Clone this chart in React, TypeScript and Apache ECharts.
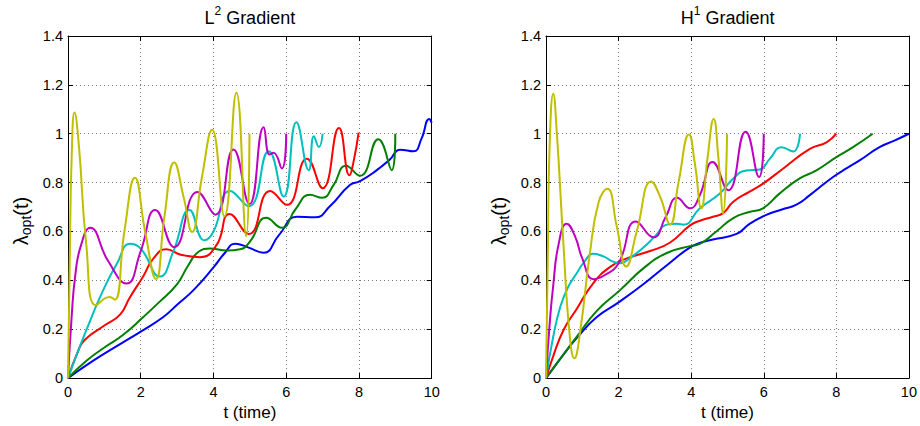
import React, { useEffect, useRef } from "react";
import * as echarts from "echarts";

// ---------- data (t, lambda_opt) ----------
const xTicks = [0, 2, 4, 6, 8, 10];
const yTicks = [0, 0.2, 0.4, 0.6, 0.8, 1, 1.2, 1.4];

const l2Blue = [[0,0],[0.5,0.052],[1,0.1],[1.5,0.145],[2,0.19],[2.62,0.25],[3.0,0.3],[3.45,0.36],[4.0,0.453],[4.3,0.51],[4.6,0.55],[4.95,0.535],[5.38,0.513],[5.8,0.585],[6.29,0.66],[6.8,0.658],[7.2,0.703],[7.75,0.79],[8.03,0.806],[8.49,0.851],[8.85,0.895],[9.13,0.935],[9.5,0.928],[9.72,0.98],[9.93,1.06],[10,1.045]];
const l2Green = [[0,0],[0.5,0.07],[1,0.125],[1.5,0.175],[2.07,0.25],[2.5,0.31],[3.0,0.385],[3.3,0.46],[3.6,0.518],[3.9,0.53],[4.37,0.522],[4.73,0.527],[5.01,0.56],[5.45,0.656],[5.88,0.615],[6.25,0.69],[6.65,0.75],[6.99,0.738],[7.3,0.79],[7.64,0.869],[8.03,0.828],[8.53,0.977],[8.9,0.851],[9,1.0]];
const l2Red = [[0,0],[0.25,0.1],[0.45,0.155],[1.0,0.215],[1.43,0.26],[1.7,0.33],[2.07,0.417],[2.35,0.49],[2.7,0.527],[3.1,0.505],[3.63,0.495],[4.09,0.546],[4.44,0.672],[4.97,0.59],[5.56,0.766],[6.02,0.709],[6.57,0.898],[7.0,0.777],[7.45,1.023],[7.74,0.83],[7.85,0.885],[7.99,1.005]];
const l2Cyan = [[0,0],[0.3,0.12],[0.65,0.25],[1.0,0.37],[1.34,0.467],[1.71,0.55],[2.0,0.53],[2.53,0.416],[2.9,0.52],[3.34,0.688],[3.75,0.564],[4.0,0.6],[4.46,0.766],[4.97,0.703],[5.52,0.928],[5.93,0.743],[6.28,1.047],[6.62,0.851],[6.76,0.99],[6.9,0.946],[7.0,1.0]];
const l2Magenta = [[0,0],[0.1,0.25],[0.2,0.42],[0.35,0.54],[0.61,0.615],[1.1,0.48],[1.61,0.387],[2.0,0.52],[2.4,0.688],[2.92,0.536],[3.56,0.762],[4.05,0.669],[4.55,0.936],[4.99,0.712],[5.38,1.027],[5.54,0.915],[5.65,0.922],[5.88,0.858],[6.0,1.0]];
const l2Yellow = [[0,0],[0.05,0.5],[0.1,0.9],[0.18,1.087],[0.3,0.95],[0.5,0.55],[0.77,0.298],[1.14,0.332],[1.29,0.321],[1.55,0.6],[1.84,0.82],[2.12,0.6],[2.42,0.406],[2.65,0.66],[2.92,0.882],[3.18,0.74],[3.41,0.598],[3.68,0.82],[3.96,1.016],[4.3,0.662],[4.63,1.168],[4.9,0.581],[4.99,1.0]];

const h1Blue = [[0,0],[0.5,0.1],[0.85,0.165],[1.4,0.25],[2.0,0.31],[2.69,0.385],[3.33,0.462],[3.97,0.535],[4.3,0.556],[4.6,0.567],[5.25,0.59],[5.6,0.63],[6.07,0.668],[6.5,0.69],[6.9,0.71],[7.27,0.749],[7.91,0.823],[8.3,0.86],[8.64,0.891],[9.19,0.945],[9.6,0.972],[10,1.0]];
const h1Green = [[0,0],[0.5,0.1],[0.85,0.17],[1.4,0.275],[2.04,0.36],[2.69,0.45],[3.33,0.512],[3.97,0.54],[4.24,0.549],[4.7,0.601],[5.16,0.655],[5.6,0.68],[5.98,0.695],[6.44,0.756],[6.99,0.817],[7.45,0.85],[8.0,0.904],[8.46,0.945],[9.0,1.0]];
const h1Red = [[0,0],[0.2,0.09],[0.48,0.196],[0.85,0.284],[1.31,0.39],[1.77,0.455],[2.23,0.49],[2.87,0.52],[3.42,0.555],[3.97,0.625],[4.24,0.644],[4.6,0.66],[4.88,0.675],[5.16,0.722],[5.61,0.763],[5.98,0.796],[6.53,0.857],[7.27,0.938],[7.73,0.965],[8.0,1.0]];
const h1Cyan = [[0,0],[0.2,0.17],[0.39,0.29],[0.6,0.37],[0.85,0.43],[1.05,0.475],[1.31,0.509],[1.6,0.497],[1.8,0.48],[2.04,0.47],[2.3,0.49],[2.69,0.535],[3.0,0.58],[3.33,0.628],[3.6,0.632],[3.79,0.628],[4.24,0.695],[4.79,0.755],[5.16,0.817],[5.52,0.85],[5.89,0.854],[6.17,0.898],[6.49,0.945],[6.81,0.927],[7.0,1.0]];
const h1Magenta = [[0,0],[0.1,0.22],[0.2,0.38],[0.35,0.55],[0.57,0.632],[0.8,0.58],[1.0,0.49],[1.31,0.405],[1.6,0.42],[2.0,0.47],[2.48,0.641],[2.96,0.576],[3.3,0.66],[3.61,0.738],[3.97,0.695],[4.24,0.749],[4.59,0.884],[5.02,0.769],[5.5,1.008],[5.87,0.823],[6.0,1.0]];
const h1Yellow = [[0,0],[0.05,0.5],[0.1,0.95],[0.2,1.164],[0.3,1.0],[0.48,0.548],[0.65,0.18],[0.78,0.081],[0.95,0.2],[1.2,0.5],[1.45,0.72],[1.69,0.775],[1.95,0.62],[2.21,0.457],[2.5,0.6],[2.9,0.805],[3.15,0.74],[3.42,0.629],[3.65,0.8],[3.94,0.997],[4.1,0.88],[4.28,0.695],[4.45,0.9],[4.62,1.06],[4.75,0.9],[4.88,0.675],[4.99,1.0]];

const seriesColors = ["#0000ff", "#008000", "#ff0000", "#00bfbf", "#bf00bf", "#bfbf00"];
const l2Series = [l2Blue, l2Green, l2Red, l2Cyan, l2Magenta, l2Yellow];
const h1Series = [h1Blue, h1Green, h1Red, h1Cyan, h1Magenta, h1Yellow];

const FONT = "'Liberation Sans', Arial, Helvetica, sans-serif";

function xAxisDef(gridIndex: number, position: string, main: boolean) {
  return {
    type: "value",
    gridIndex,
    position,
    min: xTicks[0],
    max: xTicks[xTicks.length - 1],
    interval: xTicks[1] - xTicks[0],
    axisLine: { show: true, onZero: false, lineStyle: { color: "#000", width: 1 } },
    axisTick: { show: true, inside: true, length: 5, lineStyle: { color: "#000" } },
    axisLabel: { show: main, color: "#000", fontSize: 14.5, margin: 6, fontFamily: FONT },
    splitLine: { show: main, lineStyle: { color: "#7a7a7a", type: [1, 3], width: 1 } },
    name: main ? "t (time)" : "",
    nameLocation: "middle",
    nameGap: 22,
    nameTextStyle: { color: "#000", fontSize: 17, fontFamily: FONT },
  };
}

function yAxisDef(gridIndex: number, position: string, main: boolean) {
  return {
    type: "value",
    gridIndex,
    position,
    min: yTicks[0],
    max: yTicks[yTicks.length - 1],
    interval: 0.2,
    axisLine: { show: true, onZero: false, lineStyle: { color: "#000", width: 1 } },
    axisTick: { show: true, inside: true, length: 5, lineStyle: { color: "#000" } },
    axisLabel: { show: main, color: "#000", fontSize: 14.5, margin: 5, fontFamily: FONT },
    splitLine: { show: main, lineStyle: { color: "#7a7a7a", type: [1, 3], width: 1 } },
  };
}

function titleText(x: number, letter: string, sup: string) {
  return {
    type: "text",
    x,
    y: 18,
    style: {
      text: `{m|${letter}}{p|${sup}}{m| Gradient}`,
      align: "center",
      verticalAlign: "middle",
      textAlign: "center",
      textVerticalAlign: "middle",
      fill: "#000",
      fontFamily: FONT,
      rich: {
        m: { fontSize: 18, lineHeight: 26, fontFamily: FONT, fill: "#000", color: "#000" },
        p: { fontSize: 12, lineHeight: 13, verticalAlign: "top", fontFamily: FONT, fill: "#000", color: "#000" },
      },
    },
  };
}

function yLabel(x: number) {
  return {
    type: "text",
    x,
    y: 221,
    rotation: Math.PI / 2,
    style: {
      text: "{l|λ}{s|opt}{l|(t)}",
      align: "center",
      verticalAlign: "middle",
      textAlign: "center",
      textVerticalAlign: "middle",
      fill: "#000",
      fontFamily: FONT,
      rich: {
        l: { fontSize: 20, lineHeight: 24, fontFamily: FONT, fill: "#000", color: "#000" },
        s: { fontSize: 14, lineHeight: 13, verticalAlign: "bottom", fontFamily: FONT, fill: "#000", color: "#000" },
      },
    },
  };
}

export default function App() {
  const ref = useRef<HTMLDivElement>(null);

  useEffect(() => {
    if (!ref.current) return;
    const chart = echarts.init(ref.current, null, { renderer: "svg" });

    const series: any[] = [];
    l2Series.forEach((d, i) => {
      series.push({
        type: "line",
        xAxisIndex: 0,
        yAxisIndex: 0,
        data: d,
        smooth: 0.5,
        showSymbol: false,
        symbol: "none",
        lineStyle: { color: seriesColors[i], width: 2 },
        itemStyle: { color: seriesColors[i] },
        z: 2 + i,
      });
    });
    h1Series.forEach((d, i) => {
      series.push({
        type: "line",
        xAxisIndex: 2,
        yAxisIndex: 2,
        data: d,
        smooth: 0.5,
        showSymbol: false,
        symbol: "none",
        lineStyle: { color: seriesColors[i], width: 2 },
        itemStyle: { color: seriesColors[i] },
        z: 2 + i,
      });
    });

    chart.setOption({
      animation: false,
      backgroundColor: "#fff",
      textStyle: { fontFamily: FONT },
      grid: [
        { left: 68, top: 36, width: 363.7, height: 346 },
        { left: 546, top: 36, width: 363.3, height: 346 },
      ],
      xAxis: [
        xAxisDef(0, "bottom", true),
        xAxisDef(0, "top", false),
        xAxisDef(1, "bottom", true),
        xAxisDef(1, "top", false),
      ],
      yAxis: [
        yAxisDef(0, "left", true),
        yAxisDef(0, "right", false),
        yAxisDef(1, "left", true),
        yAxisDef(1, "right", false),
      ],
      graphic: [
        titleText(249.8, "L", "2"),
        titleText(727.6, "H", "1"),
        yLabel(21),
        yLabel(499),
      ],
      series,
    });

    return () => chart.dispose();
  }, []);

  return (
    <div
      ref={ref}
      style={{ position: "absolute", left: 0, top: 0, width: 920, height: 426, background: "#fff" }}
    />
  );
}
